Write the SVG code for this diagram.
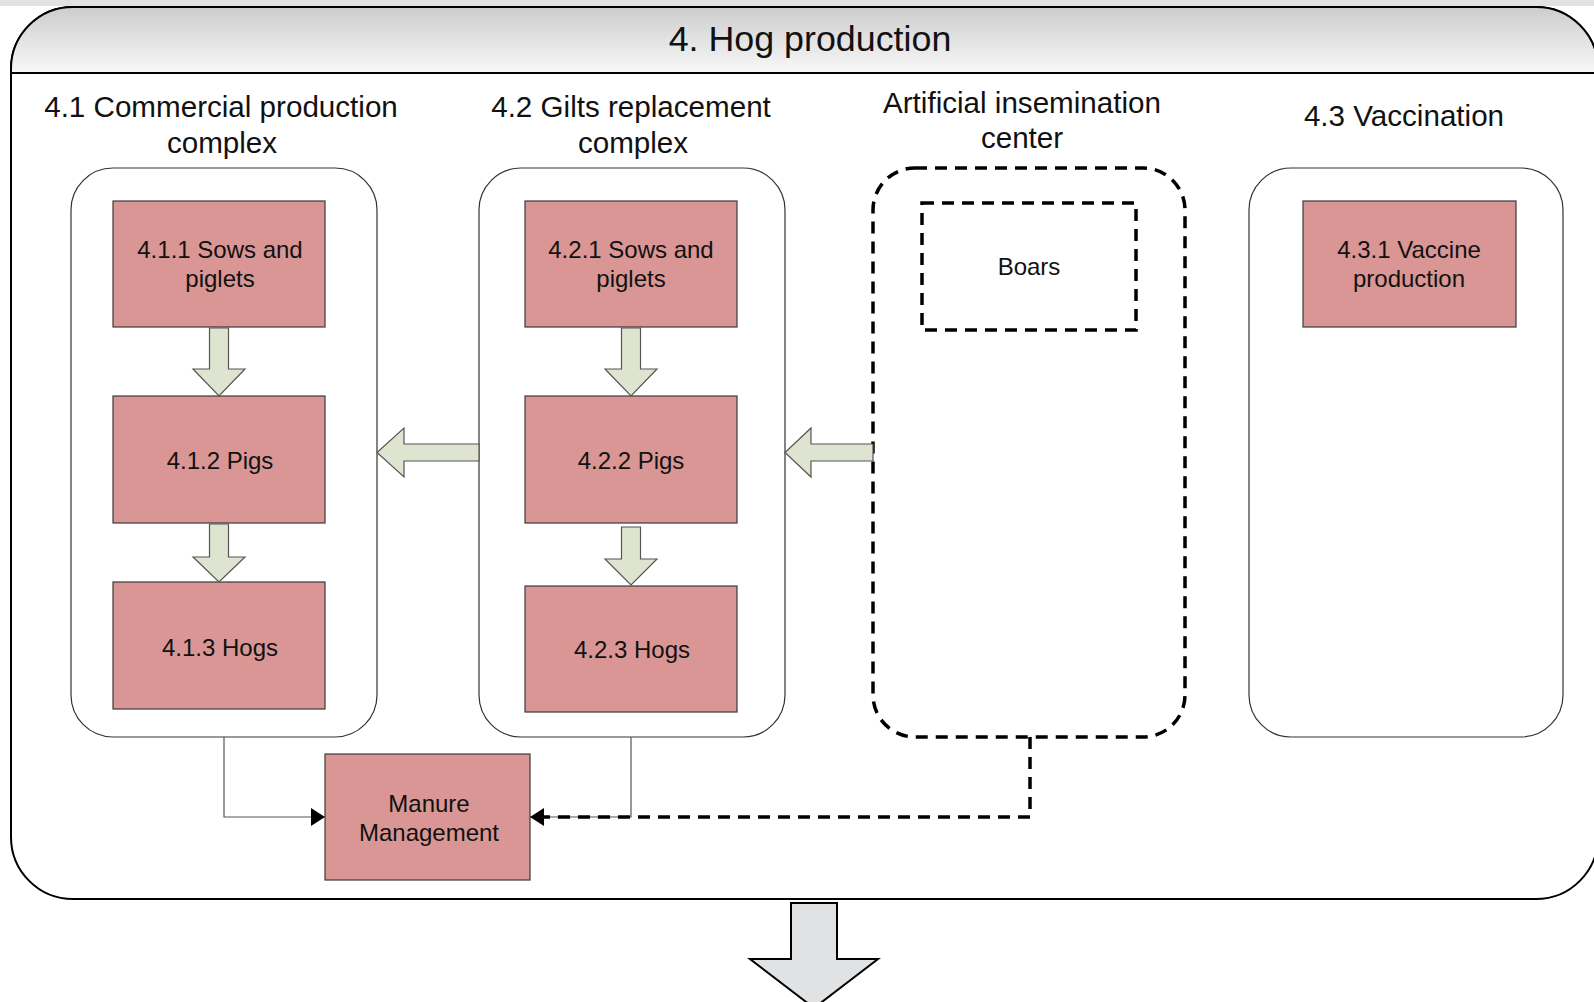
<svg xmlns="http://www.w3.org/2000/svg" width="1594" height="1002" viewBox="0 0 1594 1002">
<defs>
<linearGradient id="hdr" x1="0" y1="0" x2="0" y2="1">
<stop offset="0" stop-color="#cdcdcd"/>
<stop offset="1" stop-color="#f8f8f8"/>
</linearGradient>
<marker id="tri" viewBox="0 0 14 18" refX="14" refY="9" markerWidth="14" markerHeight="18" markerUnits="userSpaceOnUse" orient="auto">
<path d="M0,0 L14,9 L0,18 Z" fill="#000"/>
</marker>
<style>
text{font-family:"Liberation Sans",Arial,sans-serif;fill:#111;text-anchor:middle;dominant-baseline:central}
.title{font-size:35.8px}
.sec{font-size:29.6px}
.lbl{font-size:24px}
.box{fill:#d99694;stroke:#3a3a3a;stroke-width:1.2}
.cont{fill:#fff;stroke:#333;stroke-width:1.2}
.dash{fill:none;stroke:#000;stroke-width:3.5;stroke-dasharray:12 8}
.barrow{fill:#dfe4d0;stroke:#555;stroke-width:1.2}
.conn{fill:none;stroke:#555;stroke-width:1.2}
</style>
</defs>
<rect x="0" y="0" width="1594" height="6" fill="#dfe3e3"/>
<g id="frame">
<path d="M11,69 A62,62 0 0 1 73,7 H1536 A62,62 0 0 1 1598,69 V837 A62,62 0 0 1 1536,899 H73 A62,62 0 0 1 11,837 Z" fill="#fff" stroke="#000" stroke-width="2"/>
<path d="M11,73 V69 A62,62 0 0 1 73,7 H1536 A62,62 0 0 1 1598,69 V73 Z" fill="url(#hdr)" stroke="#000" stroke-width="2"/>
<text class="title" x="810" y="39">4. Hog production</text>
</g>
<g id="sec41">
<text class="sec" x="221" y="106">4.1 Commercial production</text>
<text class="sec" x="222" y="142">complex</text>
<rect class="cont" x="71" y="168" width="306" height="569" rx="42"/>
</g>
<g id="sec42">
<text class="sec" x="631" y="106">4.2 Gilts replacement</text>
<text class="sec" x="633" y="142">complex</text>
<rect class="cont" x="479" y="168" width="306" height="569" rx="42"/>
</g>
<g id="secAI">
<text class="sec" x="1022" y="102">Artificial insemination</text>
<text class="sec" x="1022" y="137">center</text>
<rect class="dash" x="873" y="168" width="312" height="569" rx="42"/>
</g>
<g id="sec43">
<text class="sec" x="1404" y="115">4.3 Vaccination</text>
<rect class="cont" x="1249" y="168" width="314" height="569" rx="42"/>
</g>
<g id="n411"><rect class="box" x="113" y="201" width="212" height="126"/><text class="lbl" x="220" y="249">4.1.1 Sows and</text><text class="lbl" x="220" y="278">piglets</text></g>
<g id="n412"><rect class="box" x="113" y="396" width="212" height="127"/><text class="lbl" x="220" y="460">4.1.2 Pigs</text></g>
<g id="n413"><rect class="box" x="113" y="582" width="212" height="127"/><text class="lbl" x="220" y="647">4.1.3 Hogs</text></g>
<g id="n421"><rect class="box" x="525" y="201" width="212" height="126"/><text class="lbl" x="631" y="249">4.2.1 Sows and</text><text class="lbl" x="631" y="278">piglets</text></g>
<g id="n422"><rect class="box" x="525" y="396" width="212" height="127"/><text class="lbl" x="631" y="460">4.2.2 Pigs</text></g>
<g id="n423"><rect class="box" x="525" y="586" width="212" height="126"/><text class="lbl" x="632" y="649">4.2.3 Hogs</text></g>
<g id="boars"><rect class="dash" x="922" y="203" width="214" height="127"/><text class="lbl" x="1029" y="266">Boars</text></g>
<g id="n431"><rect class="box" x="1303" y="201" width="213" height="126"/><text class="lbl" x="1409" y="249">4.3.1 Vaccine</text><text class="lbl" x="1409" y="278">production</text></g>
<g id="manure"><rect class="box" x="325" y="754" width="205" height="126"/><text class="lbl" x="429" y="803">Manure</text><text class="lbl" x="429" y="832">Management</text></g>
<g id="connectors">
<path class="barrow" d="M209.5,328 H228.5 V369 H245 L219,396 L193,369 H209.5 Z"/>
<path class="barrow" d="M209.5,524 H228.5 V557 H245 L219,582 L193,557 H209.5 Z"/>
<path class="barrow" d="M621.5,328 H640.5 V369 H657 L631,396 L605,369 H621.5 Z"/>
<path class="barrow" d="M621.5,527 H640.5 V559 H657 L631,585 L605,559 H621.5 Z"/>
<path class="barrow" d="M479,444 H404 V428 L377,452.5 L404,477 V461 H479 Z"/>
<path class="barrow" d="M873,444 H811 V428 L785,452.5 L811,477 V461 H873 Z"/>
<path class="conn" d="M224,737 V817 H325" marker-end="url(#tri)"/>
<path class="conn" d="M631,737 V817 H530"/>
<path class="dash" d="M1030,737 V817 H544"/>
<path d="M544,808 L530,817 L544,826 Z" fill="#000"/>
<path d="M791,903 H837 V959 H878 L814,1008 L750,959 H791 Z" fill="#e1e2e4" stroke="#000" stroke-width="2"/>
</g>
</svg>
